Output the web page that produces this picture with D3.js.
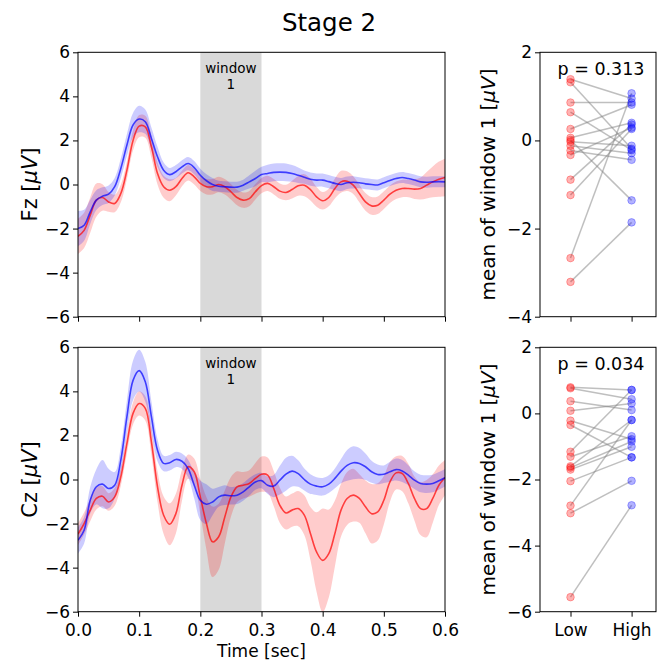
<!DOCTYPE html>
<html>
<head>
<meta charset="utf-8">
<script src="https://cdn.jsdelivr.net/npm/d3@7"></script>
<style>
  html, body { margin: 0; padding: 0; background: #fff; }
  svg { display: block; font-family: "DejaVu Sans", sans-serif; }
</style>
</head>
<body>
<svg id="fig" width="658" height="664"></svg>
<script>
// ---- ERP data: grand averages (mean ± sem) sampled every 10 ms ----
const times = d3.range(0, 0.6001, 0.01);

const fzHighMean = [-2.0,-1.85,-1.24,-0.71,-0.53,-0.44,-0.1,0.73,1.79,2.7,2.97,2.85,2.09,1.26,0.65,0.45,0.58,0.8,0.95,0.77,0.42,0.17,0.0,-0.08,-0.1,-0.12,-0.12,-0.03,0.12,0.27,0.45,0.5,0.55,0.56,0.55,0.5,0.42,0.33,0.24,0.2,0.2,0.13,0.05,0.0,0.08,0.1,0.08,0.03,0.0,-0.02,0.08,0.18,0.27,0.32,0.27,0.2,0.12,0.1,0.12,0.13,0.12];
const fzHighSem  = [0.8,0.7,0.55,0.45,0.4,0.4,0.4,0.45,0.5,0.55,0.6,0.55,0.5,0.45,0.35,0.3,0.3,0.3,0.3,0.3,0.3,0.3,0.3,0.25,0.25,0.25,0.25,0.25,0.3,0.35,0.35,0.4,0.4,0.4,0.4,0.38,0.35,0.3,0.3,0.3,0.3,0.3,0.3,0.3,0.28,0.28,0.25,0.25,0.25,0.25,0.25,0.25,0.25,0.25,0.25,0.25,0.25,0.25,0.25,0.25,0.25];
const fzLowMean  = [-2.35,-2.08,-1.39,-0.71,-0.59,-0.79,-0.86,-0.41,0.65,2.0,2.65,2.62,1.71,0.5,-0.1,-0.26,-0.1,0.27,0.53,0.35,0.05,-0.1,-0.1,0.0,-0.1,-0.33,-0.59,-0.71,-0.64,-0.33,-0.05,0.05,-0.1,-0.3,-0.36,-0.23,-0.06,-0.03,-0.23,-0.56,-0.74,-0.59,-0.18,0.12,0.15,-0.03,-0.41,-0.79,-0.97,-0.94,-0.71,-0.44,-0.26,-0.18,-0.18,-0.21,-0.18,-0.03,0.12,0.24,0.32];
const fzLowSem   = [0.8,0.8,0.8,0.75,0.6,0.45,0.4,0.4,0.4,0.45,0.5,0.5,0.5,0.5,0.5,0.5,0.4,0.35,0.35,0.35,0.35,0.35,0.35,0.35,0.35,0.35,0.35,0.35,0.35,0.35,0.35,0.35,0.35,0.35,0.35,0.4,0.45,0.5,0.5,0.45,0.4,0.4,0.45,0.5,0.45,0.4,0.4,0.4,0.4,0.4,0.4,0.4,0.4,0.4,0.4,0.45,0.5,0.6,0.7,0.8,0.85];

const czHighMean = [-2.76,-2.3,-0.94,-0.33,-0.21,-0.41,-0.26,0.88,2.85,4.5,4.94,4.44,2.85,1.33,0.73,0.76,0.91,0.83,0.5,-0.26,-0.94,-1.12,-1.02,-0.79,-0.71,-0.74,-0.71,-0.56,-0.33,-0.11,-0.05,-0.26,-0.3,-0.03,0.24,0.38,0.27,0.0,-0.21,-0.3,-0.33,-0.21,0.05,0.38,0.64,0.76,0.73,0.58,0.35,0.23,0.24,0.35,0.45,0.39,0.2,-0.03,-0.18,-0.21,-0.18,-0.06,0.08];
const czHighSem  = [0.6,0.6,0.6,0.8,1.1,0.9,0.6,0.6,0.75,0.9,0.95,0.9,0.7,0.5,0.35,0.35,0.35,0.35,0.4,0.6,0.9,0.9,0.6,0.45,0.45,0.4,0.4,0.4,0.4,0.35,0.35,0.4,0.5,0.65,0.75,0.7,0.6,0.5,0.45,0.4,0.4,0.4,0.45,0.55,0.7,0.75,0.7,0.6,0.5,0.45,0.4,0.45,0.5,0.5,0.45,0.4,0.4,0.4,0.4,0.4,0.4];
const czLowMean  = [-2.48,-2.0,-1.39,-0.86,-0.76,-1.02,-0.79,0.12,1.64,3.0,3.45,3.23,1.71,-0.33,-1.62,-2.03,-1.55,-0.26,0.58,0.35,-0.79,-2.0,-2.83,-2.6,-1.7,-0.79,-0.33,-0.26,-0.18,0.05,0.24,0.2,-0.41,-1.17,-1.52,-1.39,-1.32,-1.62,-2.45,-3.29,-3.67,-3.36,-2.45,-1.39,-0.86,-0.71,-0.86,-1.24,-1.55,-1.47,-0.94,-0.11,0.3,0.27,-0.18,-0.86,-1.32,-1.32,-0.86,-0.26,0.09];
const czLowSem   = [0.5,0.5,0.5,0.5,0.45,0.4,0.4,0.4,0.45,0.5,0.55,0.55,0.6,0.7,0.85,0.95,0.9,0.7,0.55,0.6,0.8,1.2,1.6,1.5,1.2,0.9,0.7,0.6,0.6,0.7,0.8,0.8,0.8,0.8,0.75,0.75,0.8,0.9,1.2,1.8,2.35,2.0,1.5,1.2,1.2,1.2,1.1,1.2,1.35,1.3,1.1,0.9,0.75,0.8,0.9,1.0,1.2,1.3,1.1,0.9,0.8];

// ---- per-subject means within window 1 (Low vs High) ----
const fzSubjLow  = [1.39,1.32,0.86,0.64,0.26,0.06,0.01,-0.03,-0.12,-0.23,-0.33,-0.89,-1.24,-2.67,-3.21];
const fzSubjHigh = [0.95,-0.19,0.86,-0.22,0.81,0.40,-1.36,-0.12,-0.29,-0.44,0.29,0.36,0.26,1.07,-1.86];
const czSubjLow  = [0.79,0.76,0.37,0.08,-0.22,-0.35,-1.16,-1.31,-1.60,-1.64,-1.70,-2.05,-2.79,-3.02,-5.56];
const czSubjHigh = [0.71,0.43,0.10,0.30,-0.78,-1.33,0.71,-0.69,-0.20,-0.85,-1.01,-1.33,-0.20,-2.04,-2.78];

const conditions = ["Low", "High"];
const pValues = ["0.313", "0.034"];
const channels = ["Fz", "Cz"];
const windowSpan = [0.2, 0.3];
const timeTicks = [0, 0.1, 0.2, 0.3, 0.4, 0.5, 0.6];
const erpTicks = [-6, -4, -2, 0, 2, 4, 6];
const fzSubjTicks = [-4, -2, 0, 2];
const czSubjTicks = [-6, -4, -2, 0, 2];

// ---- layout ----
const svg = d3.select("#fig");
const W = 658;
const left = { x0: 78, x1: 445 };
const right = { x0: 540, x1: 656 };
const rows = [{ y0: 52.3, y1: 316.7 }, { y0: 347.3, y1: 611.7 }];
const TICK_FONT = 17;
const RED = "#ff0000", BLUE = "#0000ff";
const fmtMinus = d => (d < 0 ? "\u2212" + Math.abs(d) : String(d));

svg.append("text")
  .attr("x", 329).attr("y", 31)
  .attr("text-anchor", "middle")
  .attr("font-size", 24.5)
  .text("Stage 2");

const defs = svg.append("defs");

function styleAxis(g) {
  g.selectAll(".domain").remove();
  g.selectAll(".tick line").attr("stroke", "#000").attr("stroke-width", 1);
  g.selectAll(".tick text").attr("font-size", TICK_FONT).attr("fill", "#000")
    .attr("font-family", "DejaVu Sans, sans-serif");
}

function frame(g, x0, x1, y0, y1) {
  g.append("rect")
    .attr("x", x0).attr("y", y0)
    .attr("width", x1 - x0).attr("height", y1 - y0)
    .attr("fill", "none").attr("stroke", "#000").attr("stroke-width", 1);
}

function yLabel(g, cx, cy, prefix, size) {
  const t = g.append("text")
    .attr("transform", `translate(${cx},${cy}) rotate(-90)`)
    .attr("text-anchor", "middle")
    .attr("font-size", size);
  t.append("tspan").text(prefix + " [");
  t.append("tspan").attr("font-style", "italic").text("\u03bcV");
  t.append("tspan").text("]");
}

// ---- ERP panels ----
const erpSets = [
  { low: fzLowMean, lowSem: fzLowSem, high: fzHighMean, highSem: fzHighSem },
  { low: czLowMean, lowSem: czLowSem, high: czHighMean, highSem: czHighSem }
];

const x = d3.scaleLinear().domain([0, 0.6]).range([left.x0, left.x1]);

erpSets.forEach((set, r) => {
  const { y0, y1 } = rows[r];
  const y = d3.scaleLinear().domain([-6, 6]).range([y1, y0]);
  const g = svg.append("g");

  const clipId = "clip" + r;
  defs.append("clipPath").attr("id", clipId)
    .append("rect").attr("x", left.x0).attr("y", y0)
    .attr("width", left.x1 - left.x0).attr("height", y1 - y0);

  // analysis window
  g.append("rect")
    .attr("x", x(windowSpan[0])).attr("y", y0)
    .attr("width", x(windowSpan[1]) - x(windowSpan[0]))
    .attr("height", y1 - y0)
    .attr("fill", "#d9d9d9");

  const wt = g.append("text")
    .attr("text-anchor", "middle")
    .attr("font-size", 13.5);
  wt.append("tspan").attr("x", x((windowSpan[0] + windowSpan[1]) / 2)).attr("y", y0 + 21).text("window");
  wt.append("tspan").attr("x", x((windowSpan[0] + windowSpan[1]) / 2)).attr("y", y0 + 37).text("1");

  const plot = g.append("g").attr("clip-path", `url(#${clipId})`);
  const curve = d3.curveCatmullRom.alpha(0.5);

  const series = [
    { m: set.low, s: set.lowSem, c: RED },
    { m: set.high, s: set.highSem, c: BLUE }
  ];
  series.forEach(sr => {
    const area = d3.area()
      .x((d, i) => x(times[i]))
      .y0((d, i) => y(sr.m[i] - sr.s[i]))
      .y1((d, i) => y(sr.m[i] + sr.s[i]))
      .curve(curve);
    plot.append("path").datum(sr.m)
      .attr("d", area)
      .attr("fill", sr.c).attr("fill-opacity", 0.2);
  });
  series.forEach(sr => {
    const line = d3.line()
      .x((d, i) => x(times[i]))
      .y(d => y(d))
      .curve(curve);
    plot.append("path").datum(sr.m)
      .attr("d", line)
      .attr("fill", "none")
      .attr("stroke", sr.c).attr("stroke-opacity", 0.7)
      .attr("stroke-width", 1.6);
  });

  const ax = g.append("g").attr("transform", `translate(0,${y1})`)
    .call(d3.axisBottom(x).tickValues(timeTicks).tickSize(5).tickSizeOuter(0)
      .tickFormat(r === 1 ? d3.format(".1f") : () => ""));
  styleAxis(ax);
  ax.selectAll(".tick text").attr("dy", "0.95em");

  const ay = g.append("g").attr("transform", `translate(${left.x0},0)`)
    .call(d3.axisLeft(y).tickValues(erpTicks).tickSize(5).tickSizeOuter(0)
      .tickFormat(fmtMinus));
  styleAxis(ay);

  frame(g, left.x0, left.x1, y0, y1);
  yLabel(g, 37, (y0 + y1) / 2, channels[r], 21);
});

svg.append("text")
  .attr("x", x(0.3)).attr("y", 657)
  .attr("text-anchor", "middle")
  .attr("font-size", 17)
  .text("Time [sec]");

// ---- paired subject panels ----
const subjSets = [
  { low: fzSubjLow, high: fzSubjHigh, domain: [-4, 2], ticks: fzSubjTicks },
  { low: czSubjLow, high: czSubjHigh, domain: [-6, 2], ticks: czSubjTicks }
];
const xc = d3.scalePoint().domain(conditions).range([570.5, 631.6]);

subjSets.forEach((set, r) => {
  const { y0, y1 } = rows[r];
  const y = d3.scaleLinear().domain(set.domain).range([y1, y0]);
  const g = svg.append("g");

  set.low.forEach((v, i) => {
    g.append("line")
      .attr("x1", xc("Low")).attr("y1", y(v))
      .attr("x2", xc("High")).attr("y2", y(set.high[i]))
      .attr("stroke", "#808080").attr("stroke-opacity", 0.5)
      .attr("stroke-width", 1.5);
  });
  [["Low", set.low, RED], ["High", set.high, BLUE]].forEach(([cond, vals, col]) => {
    g.selectAll(null).data(vals).enter().append("circle")
      .attr("cx", xc(cond)).attr("cy", d => y(d))
      .attr("r", 3.8)
      .attr("fill", col).attr("fill-opacity", 0.3)
      .attr("stroke", col).attr("stroke-opacity", 0.3).attr("stroke-width", 1);
  });

  const ax = g.append("g").attr("transform", `translate(0,${y1})`)
    .call(d3.axisBottom(xc).tickSize(5).tickSizeOuter(0)
      .tickFormat(r === 1 ? (d => d) : () => ""));
  styleAxis(ax);
  ax.selectAll(".tick text").attr("dy", "0.95em");

  const ay = g.append("g").attr("transform", `translate(${right.x0},0)`)
    .call(d3.axisLeft(y).tickValues(set.ticks).tickSize(5).tickSizeOuter(0)
      .tickFormat(fmtMinus));
  styleAxis(ay);

  g.append("text")
    .attr("x", (right.x0 + right.x1) / 2 + 3).attr("y", y0 + 23)
    .attr("text-anchor", "middle")
    .attr("font-size", 17.5)
    .text("p = " + pValues[r]);

  frame(g, right.x0, right.x1, y0, y1);
  yLabel(g, 495, (y0 + y1) / 2, "mean of window 1", 20);
});
</script>
</body>
</html>
